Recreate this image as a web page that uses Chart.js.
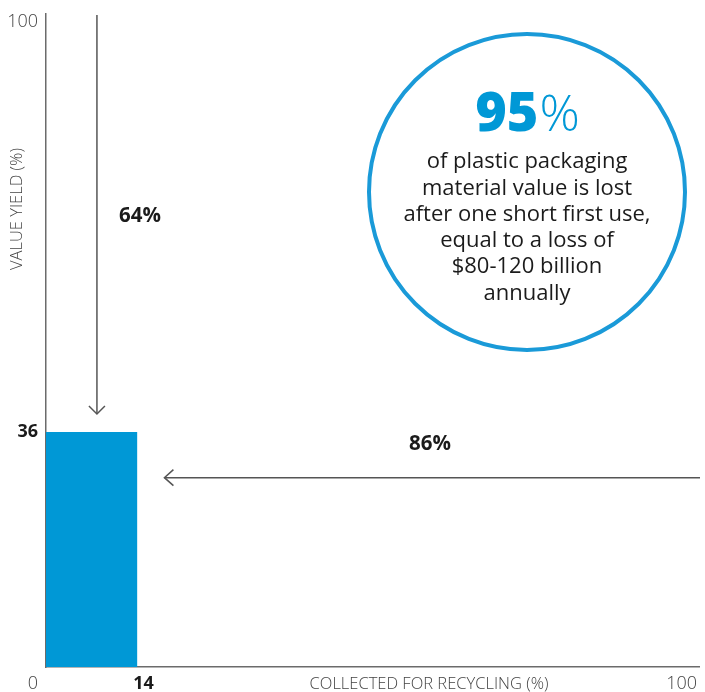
<!DOCTYPE html>
<html lang="en">
<head>
  <meta charset="UTF-8">
  <title>Plastic packaging value yield</title>
  <script src="https://cdn.jsdelivr.net/npm/chart.js"></script>
  <style>
    body {
      margin: 0;
      background: #ffffff;
    }
    #wrap {
      width: 705px;
      height: 692px;
    }
  </style>
</head>
<body>
  <div id="wrap"><canvas id="yieldChart" width="705" height="692"></canvas></div>

  <script>
    // collected for recycling (%) -> value yield (%)
    const collectedRange = [0, 14];
    const valueYield = [36, 36];
    const xTickValues = [0, 14, 100];
    const yTickValues = [36, 100];
    const highlightTicks = [14, 36];
    const calloutLines = [
      'of plastic packaging',
      'material value is lost',
      'after one short first use,',
      'equal to a loss of',
      '$80-120 billion',
      'annually'
    ];
    const calloutShare = 95;

    const BLUE = '#0098d6';
    const AXIS = '#6b6b6b';
    const INK = '#1b1b1b';
    const FONT = '"Open Sans", Lato, sans-serif';

    const collected = collectedRange[1];
    const yieldPct = valueYield[0];

    function arrowHead(ctx, x, y, dir) {
      // open chevron, dir = 'down' | 'left'
      ctx.beginPath();
      if (dir === 'down') {
        ctx.moveTo(x - 8, y - 8);
        ctx.lineTo(x, y);
        ctx.lineTo(x + 8, y - 8);
      } else {
        ctx.moveTo(x + 9, y - 8);
        ctx.lineTo(x, y);
        ctx.lineTo(x + 9, y + 8);
      }
      ctx.stroke();
    }

    const annotations = {
      id: 'annotations',
      afterDraw(chart) {
        const ctx = chart.ctx;
        const xs = chart.scales.x;
        const ys = chart.scales.y;
        const area = chart.chartArea;
        ctx.save();

        // tick labels
        ctx.textBaseline = 'middle';
        yTickValues.forEach(v => {
          const bold = highlightTicks.includes(v);
          ctx.font = (bold ? '700 ' : '300 ') + '18px ' + FONT;
          ctx.fillStyle = bold ? INK : '#444';
          ctx.textAlign = 'right';
          const py = Math.max(ys.getPixelForValue(v), area.top + 8);
          ctx.fillText(String(v), area.left - 8, py);
        });
        xTickValues.forEach((v, i) => {
          const bold = highlightTicks.includes(v);
          ctx.font = (bold ? '700 ' : '300 ') + '18px ' + FONT;
          ctx.fillStyle = bold ? INK : '#444';
          const px = xs.getPixelForValue(v);
          if (i === 0) {
            ctx.textAlign = 'right';
            ctx.fillText(String(v), area.left - 8, area.bottom + 17);
          } else if (i === xTickValues.length - 1) {
            ctx.textAlign = 'right';
            ctx.fillText(String(v), px - 2, area.bottom + 17);
          } else {
            ctx.textAlign = 'center';
            ctx.fillText(String(v), px + 6, area.bottom + 17);
          }
        });

        // axis titles
        ctx.font = '300 16.5px ' + FONT;
        ctx.fillStyle = '#444';
        ctx.textAlign = 'center';
        ctx.fillText('COLLECTED FOR RECYCLING (%)', 429, area.bottom + 17);
        ctx.save();
        ctx.translate(17, 209);
        ctx.rotate(-Math.PI / 2);
        ctx.fillText('VALUE YIELD (%)', 0, 0);
        ctx.restore();

        // lost-value arrows
        ctx.strokeStyle = '#555';
        ctx.lineWidth = 1.5;
        const ax = xs.getPixelForValue(7.8);
        const aTop = ys.getPixelForValue(100) + 1;
        const aEnd = ys.getPixelForValue(yieldPct) - 18;
        ctx.beginPath();
        ctx.moveTo(ax, aTop);
        ctx.lineTo(ax, aEnd);
        ctx.stroke();
        arrowHead(ctx, ax, aEnd, 'down');

        const hy = ys.getPixelForValue(29);
        const hStart = xs.getPixelForValue(100) + 1;
        const hEnd = xs.getPixelForValue(collected) + 27;
        ctx.beginPath();
        ctx.moveTo(hStart, hy);
        ctx.lineTo(hEnd, hy);
        ctx.stroke();
        arrowHead(ctx, hEnd, hy, 'left');

        ctx.font = '700 20.5px ' + FONT;
        ctx.fillStyle = INK;
        ctx.textAlign = 'center';
        ctx.fillText((100 - yieldPct) + '%', 140, 216);
        ctx.fillText((100 - collected) + '%', 430, 444);

        // callout circle
        ctx.beginPath();
        ctx.arc(527, 192, 158, 0, Math.PI * 2);
        ctx.strokeStyle = '#1a9ad8';
        ctx.lineWidth = 4;
        ctx.stroke();

        ctx.fillStyle = BLUE;
        const num = String(calloutShare);
        ctx.font = '800 54px ' + FONT;
        const wNum = ctx.measureText(num).width;
        ctx.font = '300 50px ' + FONT;
        const wPct = ctx.measureText('%').width;
        const startX = 527 - (wNum + wPct) / 2;
        ctx.textAlign = 'left';
        ctx.textBaseline = 'alphabetic';
        ctx.font = '800 54px ' + FONT;
        ctx.fillText(num, startX, 131);
        ctx.font = '300 50px ' + FONT;
        ctx.fillText('%', startX + wNum + 1, 131);

        ctx.fillStyle = INK;
        ctx.font = '400 22px ' + FONT;
        ctx.textAlign = 'center';
        ctx.textBaseline = 'middle';
        calloutLines.forEach((line, i) => {
          ctx.fillText(line, 527, 162 + i * 26.3);
        });

        ctx.restore();
      }
    };

    new Chart(document.getElementById('yieldChart'), {
      type: 'line',
      data: {
        datasets: [{
          label: 'Value yield',
          data: collectedRange.map((x, i) => ({ x: x, y: valueYield[i] })),
          fill: 'origin',
          backgroundColor: BLUE,
          borderWidth: 0,
          pointRadius: 0,
          tension: 0
        }]
      },
      options: {
        responsive: false,
        animation: false,
        layout: { padding: { left: 46, top: 14, right: 6, bottom: 25 } },
        plugins: {
          legend: { display: false },
          tooltip: { enabled: false }
        },
        scales: {
          x: {
            type: 'linear',
            min: 0,
            max: 100,
            ticks: { display: false },
            grid: { display: false, drawTicks: false },
            border: { display: true, color: AXIS, width: 1.5 }
          },
          y: {
            min: 0,
            max: 100,
            ticks: { display: false },
            grid: { display: false, drawTicks: false },
            border: { display: true, color: AXIS, width: 1.5 }
          }
        }
      },
      plugins: [annotations]
    });
  </script>
</body>
</html>
